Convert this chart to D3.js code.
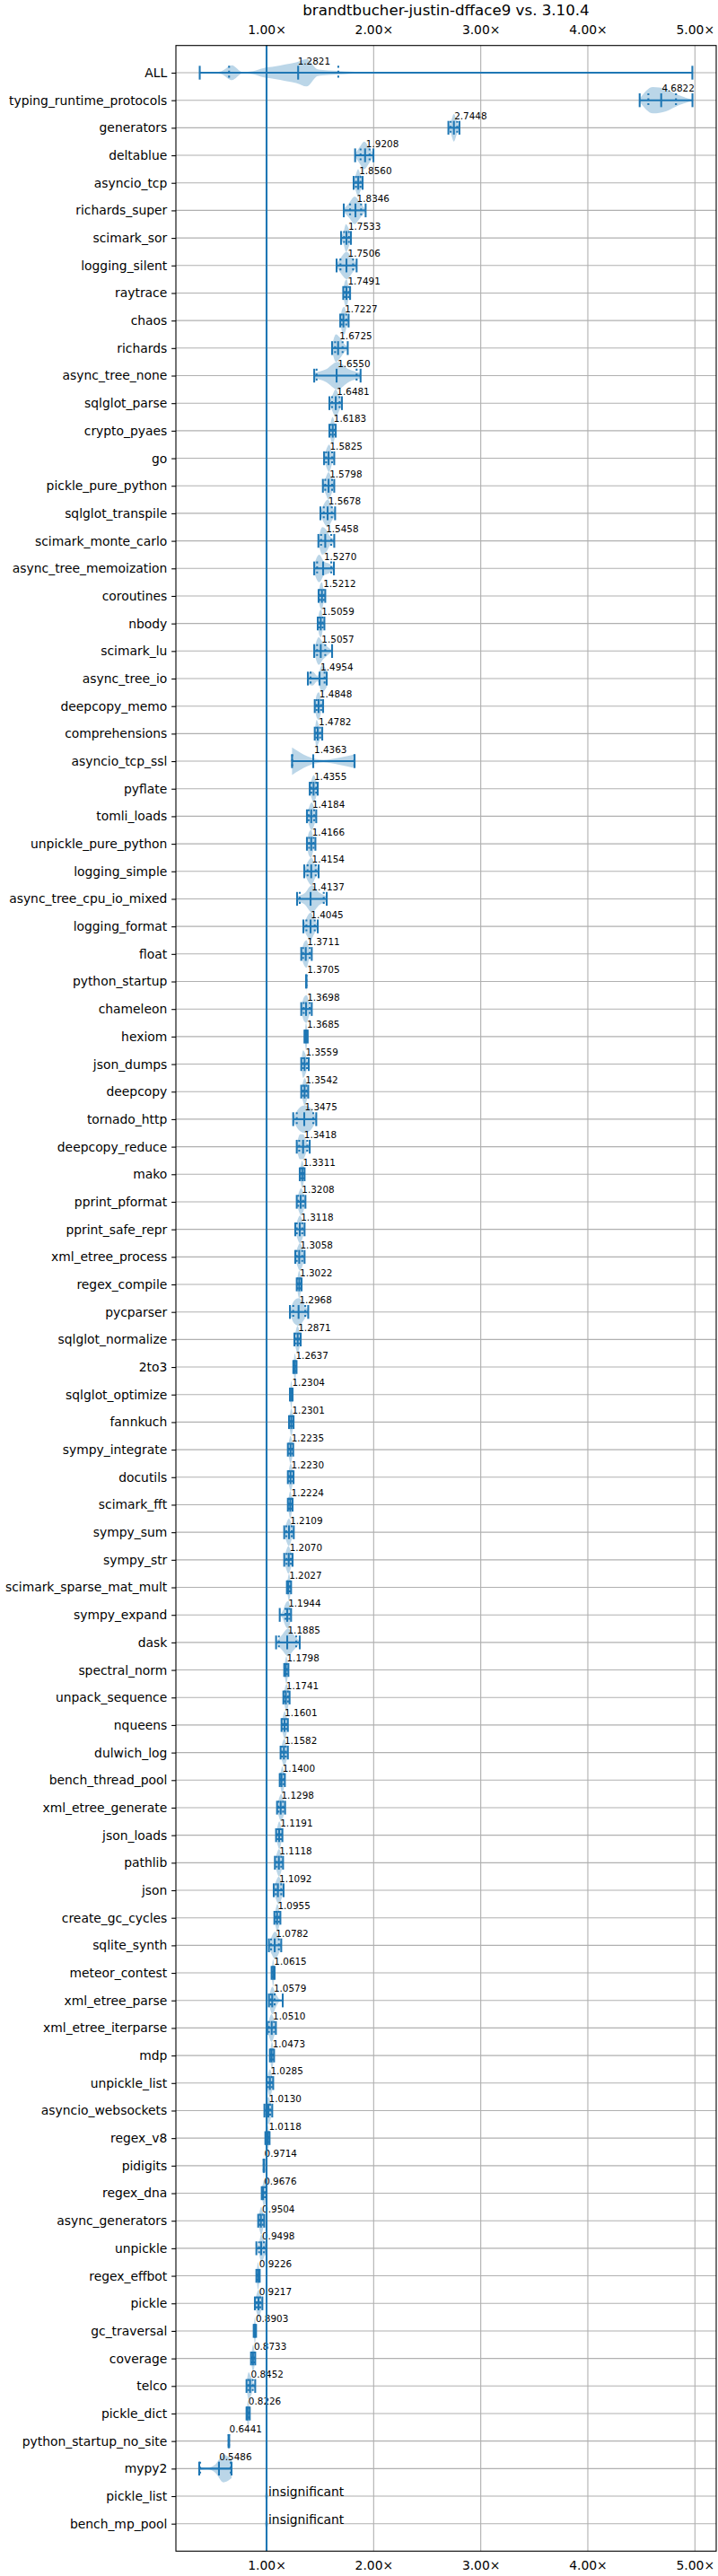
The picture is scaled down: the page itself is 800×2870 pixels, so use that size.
<!DOCTYPE html>
<html>
<head>
<meta charset="utf-8">
<script src="https://cdn.jsdelivr.net/npm/d3@7"></script>
<style>
  html, body { margin: 0; padding: 0; background: #fff; }
  text { font-family: "DejaVu Sans", sans-serif; fill: #000; }
</style>
</head>
<body>
<svg id="chart" width="800" height="2870"></svg>
<script>
var title = 'brandtbucher-justin-dfface9 vs. 3.10.4';
var xTicks = [1, 2, 3, 4, 5];

var names = ['ALL', 'typing_runtime_protocols', 'generators', 'deltablue', 'asyncio_tcp', 'richards_super', 'scimark_sor', 'logging_silent', 'raytrace', 'chaos',
  'richards', 'async_tree_none', 'sqlglot_parse', 'crypto_pyaes', 'go', 'pickle_pure_python', 'sqlglot_transpile', 'scimark_monte_carlo', 'async_tree_memoization', 'coroutines',
  'nbody', 'scimark_lu', 'async_tree_io', 'deepcopy_memo', 'comprehensions', 'asyncio_tcp_ssl', 'pyflate', 'tomli_loads', 'unpickle_pure_python', 'logging_simple',
  'async_tree_cpu_io_mixed', 'logging_format', 'float', 'python_startup', 'chameleon', 'hexiom', 'json_dumps', 'deepcopy', 'tornado_http', 'deepcopy_reduce',
  'mako', 'pprint_pformat', 'pprint_safe_repr', 'xml_etree_process', 'regex_compile', 'pycparser', 'sqlglot_normalize', '2to3', 'sqlglot_optimize', 'fannkuch',
  'sympy_integrate', 'docutils', 'scimark_fft', 'sympy_sum', 'sympy_str', 'scimark_sparse_mat_mult', 'sympy_expand', 'dask', 'spectral_norm', 'unpack_sequence',
  'nqueens', 'dulwich_log', 'bench_thread_pool', 'xml_etree_generate', 'json_loads', 'pathlib', 'json', 'create_gc_cycles', 'sqlite_synth', 'meteor_contest',
  'xml_etree_parse', 'xml_etree_iterparse', 'mdp', 'unpickle_list', 'asyncio_websockets', 'regex_v8', 'pidigits', 'regex_dna', 'async_generators', 'unpickle',
  'regex_effbot', 'pickle', 'gc_traversal', 'coverage', 'telco', 'pickle_dict', 'python_startup_no_site', 'mypy2', 'pickle_list', 'bench_mp_pool'];

// the number printed next to each violin, null means "insignificant"
var labels = [1.2821, 4.6822, 2.7448, 1.9208, 1.8560, 1.8346, 1.7533, 1.7506, 1.7491, 1.7227,
  1.6725, 1.6550, 1.6481, 1.6183, 1.5825, 1.5798, 1.5678, 1.5458, 1.5270, 1.5212,
  1.5059, 1.5057, 1.4954, 1.4848, 1.4782, 1.4363, 1.4355, 1.4184, 1.4166, 1.4154,
  1.4137, 1.4045, 1.3711, 1.3705, 1.3698, 1.3685, 1.3559, 1.3542, 1.3475, 1.3418,
  1.3311, 1.3208, 1.3118, 1.3058, 1.3022, 1.2968, 1.2871, 1.2637, 1.2304, 1.2301,
  1.2235, 1.2230, 1.2224, 1.2109, 1.2070, 1.2027, 1.1944, 1.1885, 1.1798, 1.1741,
  1.1601, 1.1582, 1.1400, 1.1298, 1.1191, 1.1118, 1.1092, 1.0955, 1.0782, 1.0615,
  1.0579, 1.0510, 1.0473, 1.0285, 1.0130, 1.0118, 0.9714, 0.9676, 0.9504, 0.9498,
  0.9226, 0.9217, 0.8903, 0.8733, 0.8452, 0.8226, 0.6441, 0.5486, null, null];

var mins = [0.376, 4.484, 2.698, 1.827, 1.813, 1.721, 1.696, 1.654, 1.716, 1.688,
  1.612, 1.445, 1.587, 1.587, 1.537, 1.526, 1.503, 1.484, 1.445, 1.486,
  1.478, 1.445, 1.386, 1.450, 1.450, 1.238, 1.403, 1.377, 1.377, 1.352,
  1.285, 1.344, 1.324, 1.369, 1.324, 1.354, 1.324, 1.324, 1.249, 1.282,
  1.310, 1.282, 1.268, 1.268, 1.282, 1.218, 1.260, 1.250, 1.218, 1.210,
  1.199, 1.199, 1.199, 1.165, 1.165, 1.190, 1.123, 1.089, 1.165, 1.157,
  1.140, 1.131, 1.123, 1.098, 1.089, 1.078, 1.067, 1.073, 1.022, 1.047,
  1.022, 1.006, 1.031, 1.000, 0.980, 0.989, 0.972, 0.955, 0.922, 0.905,
  0.905, 0.891, 0.880, 0.855, 0.813, 0.813, 0.645, 0.371, 0.985, 0.985];

var q25s = [0.650, 4.565, 2.719, 1.878, 1.835, 1.780, 1.724, 1.690, 1.730, 1.702,
  1.640, 1.467, 1.612, 1.601, 1.556, 1.548, 1.534, 1.509, 1.472, 1.500,
  1.492, 1.472, 1.411, 1.467, 1.464, 1.240, 1.417, 1.394, 1.397, 1.383,
  1.310, 1.372, 1.341, 1.370, 1.347, 1.361, 1.341, 1.341, 1.282, 1.305,
  1.321, 1.296, 1.282, 1.282, 1.291, 1.249, 1.274, 1.256, 1.224, 1.221,
  1.210, 1.210, 1.210, 1.185, 1.187, 1.196, 1.176, 1.115, 1.172, 1.168,
  1.150, 1.143, 1.130, 1.112, 1.103, 1.095, 1.087, 1.087, 1.042, 1.054,
  1.039, 1.022, 1.039, 1.014, 0.998, 1.000, 0.974, 0.962, 0.936, 0.930,
  0.912, 0.908, 0.885, 0.865, 0.830, 0.818, 0.647, 0.380, null, null];

var medians = [1.295, 4.685, 2.749, 1.920, 1.856, 1.830, 1.746, 1.746, 1.746, 1.718,
  1.668, 1.654, 1.646, 1.618, 1.579, 1.579, 1.570, 1.548, 1.528, 1.517,
  1.506, 1.506, 1.495, 1.486, 1.478, 1.436, 1.439, 1.417, 1.417, 1.417,
  1.411, 1.411, 1.366, 1.3705, 1.369, 1.3685, 1.355, 1.355, 1.352, 1.341,
  1.333, 1.319, 1.310, 1.305, 1.305, 1.299, 1.291, 1.2637, 1.2304, 1.2305,
  1.224, 1.224, 1.221, 1.210, 1.207, 1.2027, 1.193, 1.193, 1.1798, 1.180,
  1.168, 1.162, 1.140, 1.132, 1.117, 1.115, 1.106, 1.098, 1.076, 1.0615,
  1.053, 1.048, 1.0473, 1.031, 1.017, 1.012, 0.975, 0.9676, 0.947, 0.950,
  0.9226, 0.925, 0.8903, 0.8733, 0.846, 0.8226, 0.648, 0.5556, null, null];

var q75s = [1.670, 4.823, 2.780, 1.962, 1.877, 1.883, 1.769, 1.808, 1.766, 1.744,
  1.710, 1.841, 1.682, 1.635, 1.612, 1.612, 1.609, 1.604, 1.604, 1.534,
  1.523, 1.548, 1.542, 1.509, 1.500, 1.820, 1.464, 1.444, 1.439, 1.459,
  1.534, 1.450, 1.403, 1.371, 1.403, 1.376, 1.378, 1.372, 1.436, 1.380,
  1.344, 1.341, 1.333, 1.333, 1.316, 1.361, 1.305, 1.272, 1.237, 1.243,
  1.238, 1.238, 1.235, 1.235, 1.226, 1.218, 1.212, 1.277, 1.190, 1.200,
  1.185, 1.179, 1.160, 1.154, 1.134, 1.137, 1.137, 1.115, 1.115, 1.068,
  1.075, 1.070, 1.058, 1.048, 1.033, 1.020, 0.976, 0.985, 0.964, 0.975,
  0.930, 0.941, 0.896, 0.885, 0.871, 0.836, 0.649, 0.665, null, null];

var maxes = [4.976, 4.977, 2.801, 1.998, 1.897, 1.925, 1.788, 1.841, 1.780, 1.766,
  1.758, 1.878, 1.704, 1.646, 1.632, 1.632, 1.640, 1.632, 1.629, 1.548,
  1.540, 1.612, 1.562, 1.528, 1.520, 1.822, 1.478, 1.464, 1.456, 1.486,
  1.562, 1.478, 1.422, 1.372, 1.422, 1.384, 1.394, 1.389, 1.464, 1.403,
  1.355, 1.363, 1.355, 1.355, 1.327, 1.389, 1.319, 1.280, 1.243, 1.252,
  1.249, 1.252, 1.243, 1.254, 1.243, 1.229, 1.229, 1.310, 1.204, 1.215,
  1.199, 1.199, 1.171, 1.173, 1.148, 1.154, 1.159, 1.129, 1.137, 1.075,
  1.151, 1.087, 1.070, 1.062, 1.053, 1.028, 0.978, 0.9999, 0.978, 0.997,
  0.936, 0.961, 0.902, 0.894, 0.894, 0.843, 0.651, 0.673, 1.015, 1.015];

// violin widths (1 = widest) at evenly spaced stops between min and max
var diamond = [0.1, 0.7, 1, 0.7, 0.1];
var leanLeft = [0.1, 0.85, 1, 0.5, 0.1];
var profiles = [
  [0.01, 0.02, 0.1, 0.54, 0.05, 0.12, 0.35, 0.45, 0.6, 0.75, 1, 0.25, 0.17, 0.13, 0.08, 0.04, 0.01,
   0, 0, 0, 0, 0, 0, 0, 0, 0, 0, 0, 0, 0, 0, 0, 0, 0, 0, 0, 0, 0, 0, 0, 0, 0, 0, 0, 0, 0, 0],
  [0.1, 0.95, 0.8, 0.35, 0.05], [0.05, 0.5, 1, 0.5, 0.05], [0.1, 0.6, 1, 0.6, 0.1], [0.1, 0.6, 1, 0.6, 0.2], [0.1, 0.55, 1, 0.55, 0.05],
  [0.1, 0.45, 1, 0.7, 0.1], [0.1, 0.65, 1, 0.6, 0.1], leanLeft, leanLeft,
  [0.2, 1, 0.75, 0.35, 0.1], [0.2, 0.45, 1, 0.45, 0.2], [0.1, 0.6, 1, 0.6, 0.1], diamond, [0.1, 0.7, 1, 0.5, 0.1],
  [0.1, 0.6, 1, 0.6, 0.1], [0.1, 0.7, 1, 0.6, 0.1], [0.1, 1, 0.8, 0.3, 0.15], [0.3, 1, 0.5, 0.35, 0.15], leanLeft,
  leanLeft, [0.1, 1, 0.6, 0.3, 0.05], [0.4, 0.5, 0.2, 1, 0.6], leanLeft, [0.1, 1, 0.7, 0.4, 0.1],
  [1, 0.35, 0.1, 0.25, 0.5], diamond, diamond, leanLeft, [0.1, 0.7, 1, 0.5, 0.1],
  [0.2, 0.4, 1, 0.45, 0.2], [0.1, 0.7, 1, 0.55, 0.1], [0.1, 0.8, 1, 0.4, 0.1], [0.05, 0.5, 1, 0.5, 0.05], leanLeft,
  diamond, [0.1, 1, 0.8, 0.4, 0.1], diamond, [0.1, 0.8, 1, 0.8, 0.1], [0.1, 0.9, 0.9, 0.4, 0.1],
  diamond, diamond, diamond, diamond, diamond,
  [0.1, 0.85, 1, 0.6, 0.1], diamond, diamond, diamond, diamond,
  diamond, diamond, diamond, [0.1, 0.7, 1, 0.6, 0.1], diamond,
  diamond, [0.03, 0.25, 0.8, 1, 0.2], [0.05, 0.55, 1, 0.55, 0.05], diamond, diamond,
  diamond, diamond, diamond, diamond, diamond,
  diamond, diamond, diamond, [0.1, 0.7, 1, 0.7, 0.1], diamond,
  [0.2, 1, 0.5, 0.1, 0.02], diamond, diamond, diamond, diamond,
  diamond, diamond, diamond, diamond, [0.05, 0.35, 1, 0.7, 0.1],
  diamond, diamond, diamond, diamond, [0.2, 1, 0.7, 0.3, 0.1],
  diamond, [0.05, 0.5, 1, 0.5, 0.05], [0.1, 0.05, 0.3, 1, 0.7], [0.05, 0.3, 0.55, 0.3, 0.05], [0.05, 0.3, 0.55, 0.3, 0.05]
];

var plotLeft = 196, plotRight = 798, plotTop = 50.7, plotBottom = 2842.3;
var blue = '#1f77b4';
var gridColor = '#b0b0b0';
var halfWidth = 15.33, capHalf = 7.67, statWidth = 2.08;

var x = d3.scaleLinear().domain([1, 5]).range([297, 774.3]);
var y = d3.scalePoint().domain(names).range([81, 2811.7]);

var svg = d3.select('#chart');

svg.append('text')
    .attr('x', (plotLeft + plotRight) / 2)
    .attr('y', 17)
    .attr('text-anchor', 'middle')
    .attr('font-size', 16.67)
    .text(title);

// grid first so the violins sit on top of it
svg.append('g').selectAll('line').data(names).enter().append('line')
    .attr('x1', plotLeft).attr('x2', plotRight)
    .attr('y1', function(d) { return y(d); })
    .attr('y2', function(d) { return y(d); })
    .attr('stroke', gridColor).attr('stroke-width', 1.1);
svg.append('g').selectAll('line').data(xTicks).enter().append('line')
    .attr('x1', function(d) { return x(d); })
    .attr('x2', function(d) { return x(d); })
    .attr('y1', plotTop).attr('y2', plotBottom)
    .attr('stroke', gridColor).attr('stroke-width', 1.1);

// VIOLINS
var rows = svg.append('g').selectAll('g').data(names).enter().append('g');

rows.append('path')
    .attr('fill', blue)
    .attr('fill-opacity', 0.3)
    .attr('d', function(name, i) {
        var stops = profiles[i];
        var area = d3.area()
            .x(function(d, j) { return x(mins[i] + (maxes[i] - mins[i]) * j / (stops.length - 1)); })
            .y0(function(d) { return y(name) - d * halfWidth; })
            .y1(function(d) { return y(name) + d * halfWidth; })
            .curve(d3.curveMonotoneX);
        return area(stops);
    });

function statLine(row, value, dotted) {
    var line = row.append('line')
        .attr('x1', x(value)).attr('x2', x(value))
        .attr('y1', +row.attr('data-y') - capHalf)
        .attr('y2', +row.attr('data-y') + capHalf)
        .attr('stroke', blue)
        .attr('stroke-width', statWidth);
    if (dotted) {
        line.attr('stroke-dasharray', '2.08,3.43');
    }
}

rows.each(function(name, i) {
    var row = d3.select(this).attr('data-y', y(name));

    // pickle_list and bench_mp_pool only have the pale shape
    if (medians[i] !== null) {
        row.append('line')
            .attr('x1', x(mins[i])).attr('x2', x(maxes[i]))
            .attr('y1', y(name)).attr('y2', y(name))
            .attr('stroke', blue).attr('stroke-width', statWidth);
        statLine(row, mins[i], false);
        statLine(row, maxes[i], false);
        statLine(row, medians[i], false);
        statLine(row, q25s[i], true);
        statLine(row, q75s[i], true);
    }

    if (labels[i] !== null) {
        row.append('text')
            .attr('x', x(labels[i]) + 1)
            .attr('y', y(name) - 9.5)
            .attr('font-size', 10.42)
            .text(labels[i].toFixed(4));
    } else {
        row.append('text')
            .attr('x', x(1) + 2)
            .attr('y', y(name))
            .attr('font-size', 13.89)
            .text('insignificant');
    }
});

// the line at 1.00x
svg.append('line')
    .attr('x1', x(1)).attr('x2', x(1))
    .attr('y1', plotTop).attr('y2', plotBottom)
    .attr('stroke', blue).attr('stroke-width', 2.08);

// AXES
var axisLeft = d3.axisLeft(y).tickSize(4.86).tickPadding(4.86);
var axisTop = d3.axisTop(x).tickValues(xTicks).tickSize(0).tickPadding(12.7)
    .tickFormat(function(d) { return d.toFixed(2) + '\u00d7'; });
var axisBottom = d3.axisBottom(x).tickValues(xTicks).tickSize(0).tickPadding(10.5)
    .tickFormat(function(d) { return d.toFixed(2) + '\u00d7'; });

[svg.append('g').attr('transform', 'translate(' + plotLeft + ',0)').call(axisLeft),
 svg.append('g').attr('transform', 'translate(0,' + plotTop + ')').call(axisTop),
 svg.append('g').attr('transform', 'translate(0,' + plotBottom + ')').call(axisBottom)
].forEach(function(g) {
    g.select('.domain').remove();
    g.attr('font-family', null).attr('font-size', null);
    g.selectAll('text').attr('font-size', 13.89);
    g.selectAll('line').attr('stroke', '#000').attr('stroke-width', 1.1);
});

svg.append('rect')
    .attr('x', plotLeft).attr('y', plotTop)
    .attr('width', plotRight - plotLeft).attr('height', plotBottom - plotTop)
    .attr('fill', 'none')
    .attr('stroke', '#000').attr('stroke-width', 1.1);
</script>
</body>
</html>
